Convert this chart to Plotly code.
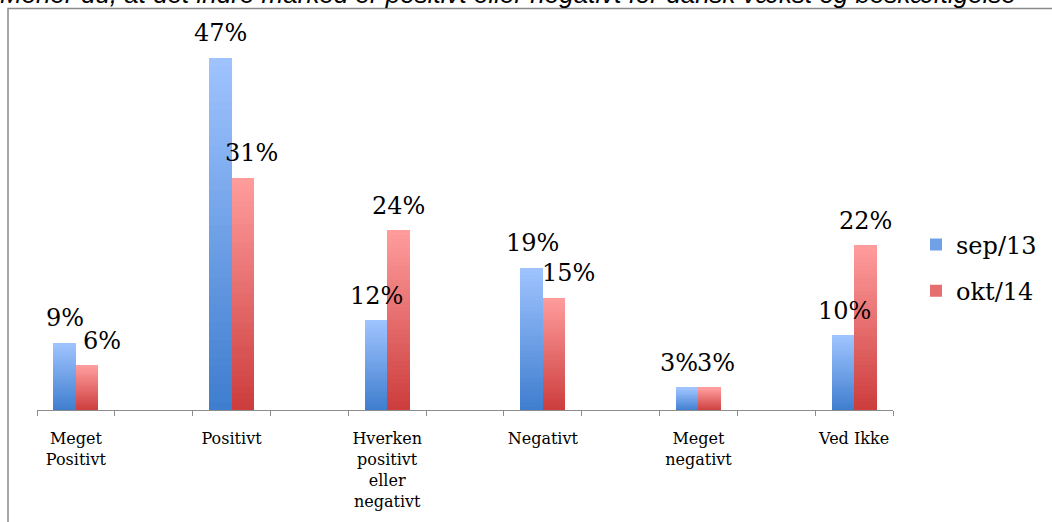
import plotly.graph_objects as go

# ---------------- data ----------------
categories = ["Meget<br>Positivt", "Positivt", "Hverken<br>positivt<br>eller<br>negativt",
              "Negativt", "Meget<br>negativt", "Ved Ikke"]
series_names = ["sep/13", "okt/14"]
sep13 = [9, 47, 12, 19, 3, 10]
okt14 = [6, 31, 24, 15, 3, 22]
title_text = "Mener du, at det indre marked er positivt eller negativt for dansk vækst og beskæftigelse"

# ---------------- style ----------------
W, H = 1052, 522
SERIF = "DejaVu Serif"
AXIS_GREY = "#8c8c8c"
BAR_W = 0.29
N_SEG = 40
grad = {
    "sep/13": ((62, 125, 206), (160, 196, 255)),   # bottom, top
    "okt/14": ((204, 60, 60), (255, 157, 157)),
}
offsets = {"sep/13": -BAR_W, "okt/14": 0.0}
# small horizontal nudges of the value labels (pixels)
label_dx = {"sep/13": [0.5, 0.5, 1, 1, -8.5, 1.5],
            "okt/14": [15, 8.5, 0, 14.5, 6.5, 0]}


def fx(p):
    return p / W


def fy(p):
    return 1 - p / H


x_pos = [2 * i for i in range(len(categories))]


def mix(c0, c1, t):
    return "rgb(%d,%d,%d)" % tuple(round(a + (b - a) * t) for a, b in zip(c0, c1))


fig = go.Figure()
for name, vals in zip(series_names, [sep13, okt14]):
    c0, c1 = grad[name]
    for k in range(N_SEG):
        t = (k + 0.5) / N_SEG
        fig.add_trace(go.Bar(
            x=x_pos,
            y=[v / N_SEG for v in vals],
            base=[v * k / N_SEG for v in vals],
            width=BAR_W,
            offset=offsets[name],
            marker=dict(color=mix(c0, c1, t), line=dict(width=0)),
            name=name,
            legendgroup=name,
            showlegend=(k == N_SEG // 2),
            hoverinfo="skip",
        ))

annotations = []
for name, vals in zip(series_names, [sep13, okt14]):
    for i, v in enumerate(vals):
        annotations.append(dict(
            x=x_pos[i] + offsets[name] + BAR_W / 2, y=v, xref="x", yref="y",
            text=f"{v}%", showarrow=False, xanchor="center", yanchor="middle",
            xshift=label_dx[name][i], yshift=24,
            font=dict(family=SERIF, size=24, color="black"),
        ))

annotations.append(dict(
    x=fx(-2), y=1, xref="paper", yref="paper", xanchor="left", yanchor="bottom",
    yshift=-11.5, showarrow=False, text="<i>" + title_text + "</i>",
    font=dict(family="Liberation Sans", size=26, color="black"),
))

fig.update_layout(
    width=W, height=H,
    margin=dict(l=0, r=0, t=0, b=0),
    paper_bgcolor="white", plot_bgcolor="white",
    barmode="overlay",
    bargap=0,
    annotations=annotations,
    shapes=[dict(type="rect", xref="paper", yref="paper",
                 x0=fx(8), x1=1.02, y0=-0.05, y1=fy(8.5),
                 line=dict(color="#8a8a8a", width=1.5), layer="below")],
    legend=dict(x=fx(916), y=fy(222.5), xanchor="left", yanchor="top",
                bgcolor="rgba(0,0,0,0)", borderwidth=0, tracegroupgap=12,
                font=dict(family=SERIF, size=24, color="black")),
    xaxis=dict(
        domain=[fx(37), fx(893)], range=[-0.5, 10.5],
        tickmode="array", tickvals=x_pos, ticktext=categories,
        ticks="", showgrid=False, zeroline=False,
        showline=True, linecolor=AXIS_GREY, linewidth=1,
        tickfont=dict(family=SERIF, size=16, color="black"),
        ticklabelstandoff=14,
        minor=dict(tickmode="array", tickvals=[i - 0.5 for i in range(12)],
                   ticks="outside", ticklen=5, tickwidth=1, tickcolor=AXIS_GREY,
                   showgrid=False),
        fixedrange=True,
    ),
    yaxis=dict(
        domain=[fy(410), fy(34.5)], range=[0, 50],
        visible=False, fixedrange=True,
    ),
    showlegend=True,
)

fig.write_html("out.html",
               config={"displayModeBar": False},
               post_script="document.body.style.margin='0';"
                           "document.body.style.overflow='hidden';")
